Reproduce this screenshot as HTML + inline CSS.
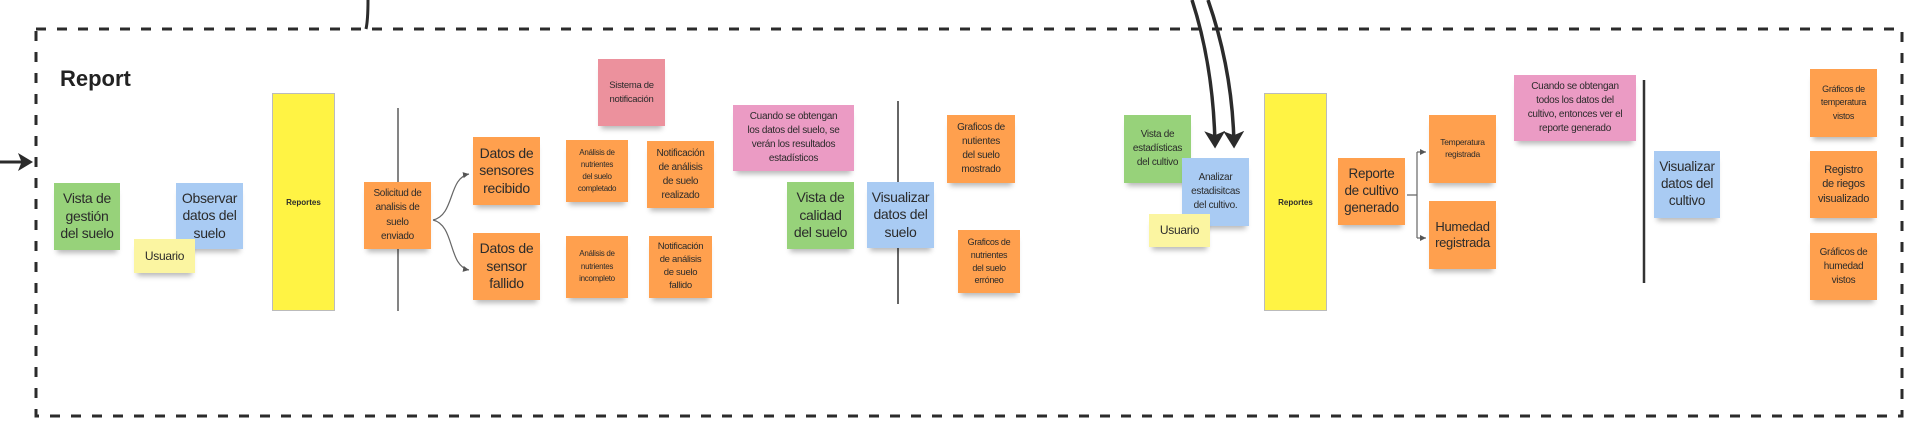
<!DOCTYPE html>
<html><head><meta charset="utf-8"><style>
html,body{margin:0;padding:0;background:#fff;}
body{width:1919px;height:441px;position:relative;overflow:hidden;font-family:"Liberation Sans",sans-serif;color:#2b2b2b;}
.n{position:absolute;display:flex;align-items:center;justify-content:center;text-align:center;box-sizing:border-box;padding:1px 0;line-height:1.25;letter-spacing:-0.3px;box-shadow:0 6px 5px -3px rgba(0,0,0,0.28);}
.g{background:#97d27a;}
.o{background:#ffa04e;}
.b{background:#a9cbf3;}
.y{background:#fbf5a1;}
.p{background:#eb9bc4;}
.s{background:#ec919d;}
.f15{font-size:14px;}
</style></head><body>
<svg width="1919" height="441" style="position:absolute;left:0;top:0">
<defs>
<marker id="ah" markerWidth="6" markerHeight="6" refX="4" refY="3" orient="auto" markerUnits="strokeWidth"><path d="M0,0 L5,3 L0,6 L1.2,3 Z" fill="#2b2b2b"/></marker>
<marker id="sa" markerWidth="8" markerHeight="8" refX="6" refY="4" orient="auto" markerUnits="userSpaceOnUse"><path d="M0,1 L6,4 L0,7 Z" fill="#555"/></marker>
</defs>
<rect x="36" y="29" width="1866" height="387" fill="none" stroke="#2b2b2b" stroke-width="3" stroke-dasharray="10,11"/>
<path d="M368,0 Q368,20 366,29" stroke="#2b2b2b" stroke-width="3" fill="none"/>
<line x1="0" y1="162" x2="30" y2="162" stroke="#2b2b2b" stroke-width="3" marker-end="url(#ah)"/>
<path d="M1192,0 C1205,40 1214,90 1215,145" stroke="#2b2b2b" stroke-width="3.5" fill="none" marker-end="url(#ah)"/>
<path d="M1208,0 C1222,40 1233,90 1234,145" stroke="#2b2b2b" stroke-width="3.5" fill="none" marker-end="url(#ah)"/>
<line x1="398" y1="108" x2="398" y2="311" stroke="#333" stroke-width="1.2"/>
<line x1="898" y1="101" x2="898" y2="304" stroke="#333" stroke-width="1.5"/>
<line x1="1644" y1="80" x2="1644" y2="283" stroke="#333" stroke-width="2.5"/>
<path d="M433,220 C455,215 448,178 469,174" stroke="#666" stroke-width="1.2" fill="none" marker-end="url(#sa)"/>
<path d="M433,220 C455,225 448,266 469,270" stroke="#666" stroke-width="1.2" fill="none" marker-end="url(#sa)"/>
<path d="M1407,195 L1417,195 M1417,152 L1417,238" stroke="#666" stroke-width="1.2" fill="none"/>
<path d="M1417,152 L1426,152" stroke="#666" stroke-width="1.2" fill="none" marker-end="url(#sa)"/>
<path d="M1417,238 L1426,238" stroke="#666" stroke-width="1.2" fill="none" marker-end="url(#sa)"/>
</svg>
<div style="position:absolute;left:60px;top:66px;font-size:22px;font-weight:bold;color:#222">Report</div>

<div class="n g f15" style="left:54px;top:183px;width:66px;height:67px">Vista de<br>gestión<br>del suelo</div>
<div class="n b f15" style="left:176px;top:183px;width:67px;height:66px">Observar<br>datos del<br>suelo</div>
<div class="n y" style="left:134px;top:239px;width:61px;height:34px;font-size:12px">Usuario</div>
<div style="position:absolute;left:272px;top:93px;width:63px;height:218px;background:#fff344;border:1px solid #bbb;box-sizing:border-box;display:flex;align-items:center;justify-content:center;font-size:8px;font-weight:bold">Reportes</div>
<div class="n o" style="left:364px;top:182px;width:67px;height:67px;font-size:10px;line-height:1.45">Solicitud de<br>analisis de<br>suelo<br>enviado</div>
<div class="n o f15" style="left:473px;top:137px;width:67px;height:68px">Datos de<br>sensores<br>recibido</div>
<div class="n o f15" style="left:473px;top:233px;width:67px;height:67px">Datos de<br>sensor<br>fallido</div>
<div class="n o" style="left:566px;top:140px;width:62px;height:62px;font-size:8px;line-height:1.5">Análisis de<br>nutrientes<br>del suelo<br>completado</div>
<div class="n o" style="left:566px;top:236px;width:62px;height:62px;font-size:8px;line-height:1.55">Análisis de<br>nutrientes<br>incompleto</div>
<div class="n s" style="left:598px;top:59px;width:67px;height:67px;font-size:9.5px;line-height:1.45">Sistema de<br>notificación</div>
<div class="n o" style="left:647px;top:141px;width:67px;height:67px;font-size:10px;line-height:1.4">Notificación<br>de análisis<br>de suelo<br>realizado</div>
<div class="n o" style="left:649px;top:236px;width:63px;height:62px;font-size:9.5px;line-height:1.35">Notificación<br>de análisis<br>de suelo<br>fallido</div>
<div class="n p" style="left:733px;top:105px;width:121px;height:66px;font-size:10px;line-height:1.4">Cuando se obtengan<br>los datos del suelo, se<br>verán los resultados<br>estadísticos</div>
<div class="n g f15" style="left:787px;top:182px;width:67px;height:67px">Vista de<br>calidad<br>del suelo</div>
<div class="n b f15" style="left:867px;top:182px;width:67px;height:66px">Visualizar<br>datos del<br>suelo</div>
<div class="n o" style="left:947px;top:115px;width:68px;height:68px;font-size:10px;line-height:1.4">Graficos de<br>nutientes<br>del suelo<br>mostrado</div>
<div class="n o" style="left:958px;top:230px;width:62px;height:63px;font-size:9px;line-height:1.4">Graficos de<br>nutrientes<br>del suelo<br>erróneo</div>
<div class="n g" style="left:1124px;top:115px;width:67px;height:68px;font-size:10px;line-height:1.4">Vista de<br>estadísticas<br>del cultivo</div>
<div class="n b" style="left:1182px;top:158px;width:67px;height:68px;font-size:10px;line-height:1.4">Analizar<br>estadisitcas<br>del cultivo.</div>
<div class="n y" style="left:1149px;top:214px;width:61px;height:33px;font-size:12px">Usuario</div>
<div style="position:absolute;left:1264px;top:93px;width:63px;height:218px;background:#fff344;border:1px solid #bbb;box-sizing:border-box;display:flex;align-items:center;justify-content:center;font-size:8px;font-weight:bold">Reportes</div>
<div class="n o" style="left:1338px;top:158px;width:67px;height:67px;font-size:13.5px">Reporte<br>de cultivo<br>generado</div>
<div class="n o" style="left:1429px;top:115px;width:67px;height:68px;font-size:8.5px;line-height:1.4;align-items:flex-start;padding-top:22px">Temperatura<br>registrada</div>
<div class="n o" style="left:1429px;top:201px;width:67px;height:68px;font-size:13px">Humedad<br>registrada</div>
<div class="n p" style="left:1514px;top:75px;width:122px;height:66px;font-size:10px;line-height:1.4">Cuando se obtengan<br>todos los datos del<br>cultivo, entonces ver el<br>reporte generado</div>
<div class="n b" style="left:1654px;top:151px;width:66px;height:67px;font-size:13.5px">Visualizar<br>datos del<br>cultivo</div>
<div class="n o" style="left:1810px;top:69px;width:67px;height:68px;font-size:9px;line-height:1.45">Gráficos de<br>temperatura<br>vistos</div>
<div class="n o" style="left:1810px;top:151px;width:67px;height:67px;font-size:11px;line-height:1.3">Registro<br>de riegos<br>visualizado</div>
<div class="n o" style="left:1810px;top:233px;width:67px;height:67px;font-size:10px;line-height:1.4">Gráficos de<br>humedad<br>vistos</div>
</body></html>
